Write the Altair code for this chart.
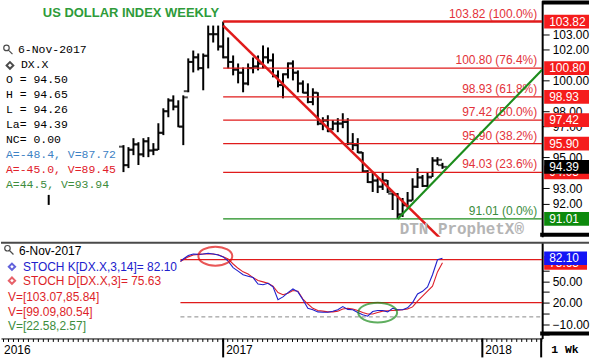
import altair as alt
import pandas as pd

SANS = "Liberation Sans"
MONO = "Liberation Mono"

TITLE = "US DOLLAR INDEX WEEKLY"

# ---------------- weekly OHLC bars (Monday dated) ----------------
WEEK_FIRST = "2016-08-15"
WEEK_LAST = "2017-11-06"
OPEN = [95.70, 94.50, 95.50, 95.85, 95.20, 96.05, 95.45, 95.50, 96.60, 98.00,
        98.70, 98.30, 97.00, 99.30, 101.20, 101.50, 100.80, 101.60, 103.00, 103.00,
        102.20, 101.50, 101.20, 100.70, 100.50, 99.80, 100.80, 100.90, 101.10, 101.50,
        101.30, 100.30, 99.70, 100.40, 101.10, 100.50, 99.80, 99.20, 98.60, 99.20,
        97.20, 97.40, 96.85, 97.20, 97.20, 97.30, 95.90, 95.80, 95.30, 94.10,
        93.40, 93.50, 93.10, 93.50, 92.65, 92.60, 91.30, 91.90, 92.20, 93.10,
        93.70, 93.15, 93.75, 94.80, 94.50]
HIGH = [95.80, 95.67, 96.25, 95.99, 96.25, 96.32, 95.93, 97.22, 98.19, 98.84,
        99.03, 98.71, 99.03, 101.43, 101.94, 101.75, 101.75, 103.56, 103.56, 103.56,
        103.82, 102.79, 101.62, 101.10, 100.84, 101.10, 101.49, 101.62, 102.27, 102.14,
        101.75, 100.65, 100.46, 101.17, 101.30, 100.65, 100.00, 99.81, 99.49, 99.23,
        97.61, 97.74, 97.42, 97.55, 97.87, 97.55, 96.58, 96.25, 95.35, 94.18,
        93.99, 93.73, 94.05, 93.54, 92.69, 92.69, 92.37, 92.76, 93.65, 94.31,
        93.86, 94.05, 95.02, 95.02, 94.65]
LOW = [94.05, 94.31, 95.15, 94.51, 95.02, 95.02, 95.15, 95.48, 96.45, 97.61,
       98.06, 96.96, 95.80, 99.23, 100.52, 100.65, 99.36, 100.78, 102.46, 101.94,
       101.43, 100.78, 100.33, 99.81, 99.23, 99.68, 100.46, 100.65, 100.78, 101.10,
       100.20, 99.55, 98.84, 100.13, 100.00, 99.23, 99.16, 98.52, 98.39, 97.09,
       96.77, 96.64, 96.77, 96.64, 96.90, 95.80, 95.48, 95.28, 93.99, 93.34,
       92.76, 92.69, 92.89, 92.69, 91.59, 91.01, 91.14, 91.73, 92.20, 93.02,
       93.08, 93.08, 93.73, 94.50, 94.26]
CLOSE = [94.50, 95.50, 95.85, 95.20, 96.05, 95.45, 95.50, 96.60, 98.00, 98.70,
         98.30, 97.00, 98.90, 101.20, 101.50, 100.80, 101.60, 103.00, 103.00, 102.20,
         101.50, 101.20, 100.70, 100.50, 99.80, 100.80, 100.90, 101.10, 101.50, 101.30,
         100.30, 99.70, 100.40, 101.10, 100.50, 99.80, 99.20, 98.60, 99.20, 97.20,
         97.40, 96.70, 97.20, 97.20, 97.30, 95.90, 95.80, 95.35, 94.10, 93.40,
         93.50, 93.10, 93.50, 92.80, 92.60, 91.30, 91.90, 92.20, 93.10, 93.70,
         93.15, 93.70, 94.80, 94.85, 94.39]

# older bar, only its lower part shows below the data box
EARLY_DATE = ["2016-05-02"]
EARLY_HIGH = [92.57]
EARLY_LOW = [91.92]

# ---------------- Fibonacci retracement ----------------
FIB_LEVELS = [103.82, 100.80, 98.93, 97.42, 95.90, 94.03, 91.01]
FIB_PCTS = ["100.0%", "76.4%", "61.8%", "50.0%", "38.2%", "23.6%", "0.0%"]
FIB_START = "2017-01-02"

RED_TREND_DATES = ["2017-01-02", "2017-11-06"]
RED_TREND_VALUES = [103.56, 89.61]
GREEN_TREND_DATES = ["2017-09-04", "2018-03-26"]
GREEN_TREND_VALUES = [91.01, 100.69]

PRICE_TICKS = [103, 102, 100, 98, 97, 95, 93, 92]
PRICE_TAGS = [103.82, 100.80, 98.93, 97.42, 95.90, 94.03, 94.39, 91.01]

# ---------------- stochastics ----------------
STOCH_FIRST = "2016-11-03"
STOCH_WEEK_FIRST = "2016-11-07"
STOCH_K = [77.6, 81, 86, 88, 87.5, 88, 89, 88, 86.5,
           84, 78, 69, 64, 59, 57, 55, 46, 45, 47,
           42, 24, 28, 34, 39, 35, 24, 12, 10, 7,
           6.5, 6.5, 8, 10, 14.5, 10.5, 10, 6, 3, 1,
           7.5, 9, 9, 7, 12, 10, 10, 12.6, 20, 32,
           35.8, 42, 59, 80, 82.1]
STOCH_D = [77.6, 80, 84, 86.5, 87.5, 88, 88, 88, 87,
           84, 81, 74, 68, 63, 60, 55, 51, 49, 47,
           43, 34, 31, 33, 37, 36, 25, 18, 12, 9,
           8, 7, 7, 8, 11, 12, 11, 9, 6, 4,
           4, 6, 8, 8.5, 9, 9.5, 10, 11, 14, 22,
           29, 36, 43, 63, 75.63]
STOCH_LEVELS = [80, 20]
STOCH_ZERO = [0]
STOCH_TICKS = [65, 50, 35, 20, 5, -10, -25]
STOCH_TAGS = [75.63, 82.10]

RED_CIRCLE_DATE, RED_CIRCLE_VALUE = "2016-12-22", 85
GREEN_CIRCLE_DATE, GREEN_CIRCLE_VALUE = "2017-08-07", 6

LEGEND_TOP = ["6-Nov-2017", "DX.X", "O = 94.50", "H = 94.65", "L = 94.26",
              "La= 94.39", "NC= 0.00", "A=-48.4, V=87.72", "A=-45.0, V=89.45",
              "A=44.5, V=93.94"]
LEGEND_BOTTOM = ["6-Nov-2017", "STOCH K[DX.X,3,14]= 82.10", "STOCH D[DX.X,3]= 75.63",
                 "V=[103.07,85.84]", "V=[99.09,80.54]", "V=[22.58,2.57]"]
YEAR_LABELS = ["2016", "2017", "2018"]
YEAR_LABEL_DATES = ["2016-02-25", "2017-01-02", "2018-01-01"]
YEAR_TICK_DATES = ["2017-01-02", "2018-01-01"]
WATERMARK = "DTN ProphetX\u00ae"
PERIOD = "1 Wk"

X_START = (2016, 2, 25)
X_END = (2018, 3, 26)

# ---------------- styles ----------------
RED = "#e01b1b"
RED_TXT = "#e3323a"
GREEN = "#1c8c1c"
GREEN_TXT = "#3c8c3c"
TAG_RED = "#f51c1c"
TAG_GREEN = "#0d8a0d"
BLUE_K = "#2020cc"
RED_D = "#dd1f2a"
TOP_W, TOP_H = 543, 237
BOT_W, BOT_H = 543, 97

xscale = alt.Scale(domain=[alt.DateTime(year=X_START[0], month=X_START[1], date=X_START[2]),
                           alt.DateTime(year=X_END[0], month=X_END[1], date=X_END[2])])
yscale = alt.Scale(domain=[89.85, 105.18], nice=False, zero=False)
yscale2 = alt.Scale(domain=[-30.2, 105.1], nice=False, zero=False)

price_axis = alt.Axis(orient="right", values=PRICE_TICKS, format=".2f", title=None, grid=False,
                      domainColor="black", domainWidth=2, tickColor="black", tickSize=7,
                      labelFont=SANS, labelFontSize=12, labelColor="black", labelPadding=3)
stoch_axis = alt.Axis(orient="right", values=STOCH_TICKS, title=None, grid=False,
                      labelExpr="(datum.value == 50 || datum.value == 20 || datum.value == -10) ? format(datum.value, '.2f') : ''",
                      domainColor="black", domainWidth=2, tickColor="black", tickSize=7,
                      labelFont=SANS, labelFontSize=12, labelColor="black", labelPadding=3)
time_axis = alt.Axis(orient="bottom", labels=False, title=None, grid=False, domainColor="black",
                     tickColor="black", tickSize=3,
                     tickCount=alt.TimeIntervalStep(interval="week", step=1))


def X(f):
    return alt.X(f"{f}:T", scale=xscale, axis=None)


def XB(f):
    return alt.X(f"{f}:T", scale=xscale, axis=time_axis)


def Y(f):
    return alt.Y(f"{f}:Q", scale=yscale, axis=price_axis)


def Y2s(f):
    return alt.Y(f"{f}:Q", scale=yscale2, axis=stoch_axis)


def txt(s, x, y, color="black", font=SANS, size=12, weight="normal", align="left"):
    return alt.Chart(pd.DataFrame({"t": [s]})).mark_text(
        align=align, baseline="middle", font=font, fontSize=size, fontWeight=weight, color=color
    ).encode(text="t:N", x=alt.value(x), y=alt.value(y))


# ---------------- top panel ----------------
bars = pd.DataFrame({"date": pd.date_range(WEEK_FIRST, WEEK_LAST, freq="W-MON"),
                     "open": OPEN, "high": HIGH, "low": LOW, "close": CLOSE})
early = pd.DataFrame({"date": pd.to_datetime(EARLY_DATE), "high": EARLY_HIGH, "low": EARLY_LOW})
bars_all = pd.concat([early, bars], ignore_index=True)

top_layers = []
top_layers.append(alt.Chart(bars_all).mark_rule(color="black", strokeWidth=2).encode(
    x=X("date"), y=Y("low"), y2="high:Q"))
top_layers.append(alt.Chart(bars).mark_tick(color="black", orient="horizontal", size=4,
                                            thickness=2, xOffset=-2.5).encode(x=X("date"), y=Y("open")))
top_layers.append(alt.Chart(bars).mark_tick(color="black", orient="horizontal", size=4,
                                            thickness=2, xOffset=2.5).encode(x=X("date"), y=Y("close")))

fib = pd.DataFrame({"level": FIB_LEVELS, "pct": FIB_PCTS})
fib["start"] = pd.to_datetime(FIB_START)
fib["end"] = pd.Timestamp(*X_END)
fib["label"] = [f"{l:.2f} ({p})" for l, p in zip(FIB_LEVELS, FIB_PCTS)]
fib_top, fib_mid, fib_low = fib.iloc[:1], fib.iloc[1:-1], fib.iloc[-1:]
top_layers.append(alt.Chart(fib_top).mark_rule(color=RED, strokeWidth=2.5).encode(
    x=X("start"), x2="end:T", y=Y("level")))
top_layers.append(alt.Chart(fib_mid).mark_rule(color=RED, strokeWidth=1.3).encode(
    x=X("start"), x2="end:T", y=Y("level")))
top_layers.append(alt.Chart(fib_low).mark_rule(color=GREEN, strokeWidth=1.3).encode(
    x=X("start"), x2="end:T", y=Y("level")))
top_layers.append(alt.Chart(fib.iloc[:-1]).mark_text(align="right", baseline="middle", dy=-8,
                                                     font=SANS, fontSize=12, color=RED_TXT).encode(
    x=alt.value(538), y=Y("level"), text="label:N"))
top_layers.append(alt.Chart(fib_low).mark_text(align="right", baseline="middle", dy=-8,
                                               font=SANS, fontSize=12, color=GREEN_TXT).encode(
    x=alt.value(538), y=Y("level"), text="label:N"))

red_tr = pd.DataFrame({"date": pd.to_datetime(RED_TREND_DATES), "v": RED_TREND_VALUES})
green_tr = pd.DataFrame({"date": pd.to_datetime(GREEN_TREND_DATES), "v": GREEN_TREND_VALUES})
top_layers.append(alt.Chart(red_tr).mark_line(color=RED, strokeWidth=2.5, clip=True).encode(
    x=X("date"), y=Y("v")))
top_layers.append(alt.Chart(green_tr).mark_line(color=GREEN, strokeWidth=2.2, clip=True).encode(
    x=X("date"), y=Y("v")))

tag_colors = [TAG_RED] * 6 + ["black", TAG_GREEN]
tags = pd.DataFrame({"v": PRICE_TAGS, "c": tag_colors})
tags["t"] = [f"{v:.2f}" for v in PRICE_TAGS]
for i in range(len(tags)):
    row = tags.iloc[i:i + 1]
    top_layers.append(alt.Chart(row).transform_calculate(top="datum.v + 0.45", bot="datum.v - 0.45")
                      .mark_rect().encode(x=alt.value(545), x2=alt.value(590), y=Y("top"), y2="bot:Q",
                                          color=alt.Color("c:N", scale=None)))
    top_layers.append(alt.Chart(row).mark_text(align="left", baseline="middle", font=SANS,
                                               fontSize=12, color="white").encode(
        x=alt.value(550), y=Y("v"), text="t:N"))

# decorations of the right scale frame
blank = pd.DataFrame({"a": [0]})
top_layers.append(alt.Chart(blank).mark_rect(color="black").encode(
    x=alt.value(543), x2=alt.value(590), y=alt.value(0), y2=alt.value(4)))
top_layers.append(alt.Chart(blank).mark_rect(color="black").encode(
    x=alt.value(541), x2=alt.value(590), y=alt.value(233), y2=alt.value(237)))

top_layers.append(txt(TITLE, 42, 12, color="#2e9b3a", size=13, weight="bold"))
top_layers.append(txt(WATERMARK, 400, 229, color="#b4b4b4", font=MONO, size=16, weight="bold"))

# data box text
leg_colors = ["black"] * 7 + ["#3d82c4", "#e0202a", "#3c8c3c"]
leg_x = [17, 20, 5, 5, 5, 5, 5, 5, 5, 5]
for i, (s, c, lx) in enumerate(zip(LEGEND_TOP, leg_colors, leg_x)):
    top_layers.append(txt(s, lx, 50 + 15 * i, color=c, font=MONO, size=11.5))

MAGNIFIER = "M-0.85,-0.3A0.55,0.55,0,1,0,0.25,-0.3A0.55,0.55,0,1,0,-0.85,-0.3M0.1,0.15L0.9,0.95"
top_layers.append(alt.Chart(blank).mark_point(
    shape=MAGNIFIER, filled=False, size=100, color="black", strokeWidth=1.2).encode(
    x=alt.value(7), y=alt.value(49)))
top_layers.append(alt.Chart(blank).mark_point(
    shape="diamond", filled=False, size=45, color="black", strokeWidth=2).encode(
    x=alt.value(9), y=alt.value(65)))

top = alt.layer(*top_layers).properties(width=TOP_W, height=TOP_H)

# ---------------- bottom panel ----------------
stoch = pd.DataFrame({
    "date": [pd.Timestamp(STOCH_FIRST)] + list(pd.date_range(STOCH_WEEK_FIRST, WEEK_LAST, freq="W-MON")),
    "k": STOCH_K, "d": STOCH_D})

bot_layers = []
lv = pd.DataFrame({"v": STOCH_LEVELS})
lv["start"] = pd.Timestamp(STOCH_FIRST)
lv["end"] = pd.Timestamp(*X_END)
bot_layers.append(alt.Chart(lv).mark_rule(color=RED, strokeWidth=1.3).encode(
    x=XB("start"), x2="end:T", y=Y2s("v")))
zr = pd.DataFrame({"v": STOCH_ZERO})
zr["start"] = pd.Timestamp(STOCH_FIRST)
zr["end"] = pd.Timestamp(*X_END)
bot_layers.append(alt.Chart(zr).mark_rule(color="#8a8a8a", strokeWidth=1, strokeDash=[4, 3]).encode(
    x=XB("start"), x2="end:T", y=Y2s("v")))
bot_layers.append(alt.Chart(stoch).mark_line(color=RED_D, strokeWidth=1.1).encode(
    x=XB("date"), y=Y2s("d")))
bot_layers.append(alt.Chart(stoch).mark_line(color=BLUE_K, strokeWidth=1.1).encode(
    x=XB("date"), y=Y2s("k")))

circ_red = pd.DataFrame({"date": [pd.Timestamp(RED_CIRCLE_DATE)], "v": [RED_CIRCLE_VALUE]})
circ_green = pd.DataFrame({"date": [pd.Timestamp(GREEN_CIRCLE_DATE)], "v": [GREEN_CIRCLE_VALUE]})
bot_layers.append(alt.Chart(circ_red).mark_point(
    shape="M-1,0A1,0.56,0,1,0,1,0A1,0.56,0,1,0,-1,0Z", filled=False, size=1156,
    color="#e01010", strokeWidth=2).encode(x=XB("date"), y=Y2s("v")))
bot_layers.append(alt.Chart(circ_green).mark_point(
    shape="M-1,0A1,0.51,0,1,0,1,0A1,0.51,0,1,0,-1,0Z", filled=False, size=1521,
    color="#1c8c1c", strokeWidth=2).encode(x=XB("date"), y=Y2s("v")))

stag_colors = [TAG_RED, "#1414f5"]
for v, c in zip(STOCH_TAGS, stag_colors):
    row = pd.DataFrame({"v": [v], "c": [c], "t": [f"{v:.2f}"]})
    bot_layers.append(alt.Chart(row).transform_calculate(top="datum.v + 9.5", bot="datum.v - 9.5")
                      .mark_rect().encode(x=alt.value(545), x2=alt.value(588), y=Y2s("top"), y2="bot:Q",
                                          color=alt.Color("c:N", scale=None)))
    bot_layers.append(alt.Chart(row).mark_text(align="left", baseline="middle", font=SANS,
                                               fontSize=12, color="white").encode(
        x=alt.value(550), y=Y2s("v"), text="t:N"))

bot_layers.append(alt.Chart(blank).mark_rule(color="#4a4a4a", strokeWidth=2).encode(
    x=alt.value(0), x2=alt.value(590), y=alt.value(1)))
bot_layers.append(alt.Chart(blank).mark_rect(color="black").encode(
    x=alt.value(541), x2=alt.value(590), y=alt.value(90), y2=alt.value(94)))
bot_layers.append(alt.Chart(blank).mark_rule(color="black", strokeWidth=2).encode(
    x=alt.value(542), y=alt.value(97), y2=alt.value(116)))

ytk = pd.DataFrame({"date": pd.to_datetime(YEAR_TICK_DATES)})
bot_layers.append(alt.Chart(ytk).mark_rule(color="black", strokeWidth=2).encode(
    x=XB("date"), y=alt.value(97), y2=alt.value(116)))
ylb = pd.DataFrame({"date": pd.to_datetime(YEAR_LABEL_DATES), "t": YEAR_LABELS})
bot_layers.append(alt.Chart(ylb).mark_text(align="left", baseline="middle", dx=3, font=SANS,
                                           fontSize=12, color="black").encode(
    x=XB("date"), y=alt.value(109), text="t:N"))
bot_layers.append(txt(PERIOD, 552, 109, font=MONO, size=11.5, weight="bold"))

bleg_colors = ["black", BLUE_K, RED_D, RED_D, RED_D, "#3c8c3c"]
bleg_x = [18, 22, 22, 7, 7, 7]
bleg_y = [9, 25, 39, 55, 70, 85]
for s, c, lx, ly in zip(LEGEND_BOTTOM, bleg_colors, bleg_x, bleg_y):
    bot_layers.append(txt(s, lx, ly, color=c, size=12))
bot_layers.append(alt.Chart(blank).mark_point(
    shape=MAGNIFIER, filled=False, size=100, color="black", strokeWidth=1.2).encode(
    x=alt.value(8), y=alt.value(8)))
bot_layers.append(alt.Chart(blank).mark_point(
    shape="diamond", filled=False, size=40, color=BLUE_K, strokeWidth=2).encode(
    x=alt.value(11), y=alt.value(25)))
bot_layers.append(alt.Chart(blank).mark_point(
    shape="diamond", filled=False, size=40, color=RED_D, strokeWidth=2).encode(
    x=alt.value(11), y=alt.value(39)))

bottom = alt.layer(*bot_layers).properties(width=BOT_W, height=BOT_H)

chart = alt.vconcat(top, bottom, spacing=5).properties(
    padding=0, background="white"
).configure_view(stroke=None)

chart.save("out.html", embed_options={"renderer": "svg", "actions": False})
